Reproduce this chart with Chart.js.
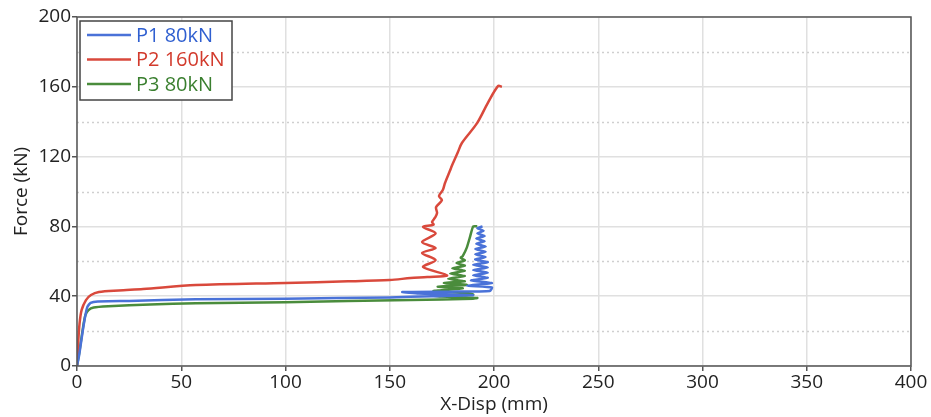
<!DOCTYPE html>
<html>
<head>
<meta charset="utf-8">
<script src="https://cdn.jsdelivr.net/npm/chart.js@4/dist/chart.umd.min.js"></script>
<style>
  html, body { margin: 0; padding: 0; background: #fff; }
  #wrap { width: 931px; height: 417px; }
</style>
</head>
<body>
<div id="wrap"><canvas id="chart"></canvas></div>
<script>
// P1 80kN
const p1Disp = [0, 1, 2, 3, 4, 5, 6.5, 10, 25, 57, 100, 150, 170, 190, 164, 156, 180, 198,
  199, 187, 199, 189, 197, 190, 197, 190, 197, 190, 197, 191, 196, 191, 196, 191, 196,
  191.5, 195.5, 191.5, 195.5, 192, 195, 192, 194.5];
const p1Force = [0, 6, 14, 22, 29, 34, 36.2, 37, 37.3, 38.2, 38.6, 39.3, 40, 40.6, 41.5, 42.4, 42.6, 43,
  45, 46, 47.5, 49, 50.5, 52, 53.5, 55, 56.5, 58, 59.5, 61, 62.5, 64, 65.5, 67, 68.5,
  70, 71.5, 73, 74.5, 76, 77.5, 79, 80];

// P2 160kN
const p2Disp = [0, 0.5, 1.2, 2.2, 4.3, 6.7, 10.5, 20, 31.7, 57, 100, 130, 150, 160, 168, 177.5,
  166, 172, 165.5, 172, 165.5, 172, 166, 171, 170.3, 171.7, 172.7, 172.2, 175, 173.6, 175.5,
  176.5, 178.9, 179.9, 182.7, 184.6, 191.8, 197, 202, 203.8];
const p2Force = [0, 12, 24, 32, 37.8, 40.7, 42.4, 43.3, 44.1, 46.4, 47.6, 48.5, 49.3, 50.4, 51, 52,
  56.7, 60.7, 64.8, 67.6, 71, 76, 79.7, 81, 82.5, 85, 87.7, 91, 95, 97.4, 101,
  104.9, 112, 115, 122.6, 127.8, 139, 150.7, 160.5, 160];

// P3 80kN
const p3Disp = [0, 1, 2, 3, 4, 5.5, 8, 15, 35, 57, 100, 160, 190, 192, 175, 170, 190, 186, 171, 185,
  173, 187, 176, 186, 178, 186, 179, 186, 180, 186, 182, 186, 184, 185, 187, 188.5, 190, 192];
const p3Force = [0, 7, 15, 23, 29, 32, 33.5, 34.2, 35.3, 35.9, 36.6, 37.8, 38.5, 39, 39.8, 40.5, 41, 42, 43, 44.5,
  45.5, 46.5, 47.5, 48.5, 50, 51.5, 53, 54.5, 56, 57.5, 59, 60.5, 62, 63, 68, 74, 80, 80];

const seriesLabels = ['P1 80kN', 'P2 160kN', 'P3 80kN'];
const lineColors = ['#4a72d8', '#d9493c', '#4a8c3c'];
const textColors = ['#2f5fd0', '#d23a2c', '#3a7f2f'];
const lineTension = [0.15, 0.3, 0.15];

const xTicks = [0, 50, 100, 150, 200, 250, 300, 350, 400];
const yTicks = [0, 40, 80, 120, 160, 200];
const yMinor = [20, 60, 100, 140, 180];

const FONT = '"Open Sans", "Noto Sans", sans-serif';

function pts(xs, ys) {
  return xs.map((x, i) => ({ x: x, y: ys[i] }));
}

const datasets = [
  [p1Disp, p1Force], [p2Disp, p2Force], [p3Disp, p3Force]
].map(([xs, ys], i) => ({
  label: seriesLabels[i],
  data: pts(xs, ys),
  showLine: true,
  borderColor: lineColors[i],
  backgroundColor: lineColors[i],
  borderWidth: 2.5,
  pointRadius: 0,
  tension: lineTension[i],
  fill: false,
}));

// dotted minor grid lines, frame round the plot, boxed legend
const framePlugin = {
  id: 'frame',
  beforeDatasetsDraw(chart) {
    const { ctx, chartArea, scales } = chart;
    ctx.save();
    ctx.strokeStyle = '#cfcfcf';
    ctx.lineWidth = 1.5;
    ctx.setLineDash([2, 3]);
    yMinor.forEach(v => {
      const py = Math.round(scales.y.getPixelForValue(v)) + 0.5;
      ctx.beginPath();
      ctx.moveTo(chartArea.left, py);
      ctx.lineTo(chartArea.right, py);
      ctx.stroke();
    });
    ctx.restore();
  },
  afterDraw(chart) {
    const { ctx, chartArea } = chart;
    ctx.save();
    ctx.strokeStyle = '#555';
    ctx.lineWidth = 1.5;
    ctx.strokeRect(chartArea.left, chartArea.top, chartArea.right - chartArea.left, chartArea.bottom - chartArea.top);

    const bx = chartArea.left + 3, by = chartArea.top + 4, bw = 152, bh = 79;
    ctx.fillStyle = '#fff';
    ctx.fillRect(bx, by, bw, bh);
    ctx.strokeStyle = '#444';
    ctx.lineWidth = 1.5;
    ctx.strokeRect(bx, by, bw, bh);
    ctx.font = '20px ' + FONT;
    ctx.textBaseline = 'middle';
    chart.data.datasets.forEach((ds, i) => {
      const rowY = by + 14 + i * 24.5;
      ctx.strokeStyle = ds.borderColor;
      ctx.lineWidth = 2.5;
      ctx.beginPath();
      ctx.moveTo(bx + 7, rowY);
      ctx.lineTo(bx + 51, rowY);
      ctx.stroke();
      ctx.fillStyle = textColors[i];
      ctx.fillText(ds.label, bx + 56, rowY + 1);
    });
    ctx.restore();
  }
};

new Chart(document.getElementById('chart'), {
  type: 'scatter',
  data: { datasets: datasets },
  options: {
    responsive: true,
    maintainAspectRatio: false,
    animation: false,
    layout: { padding: { left: 0, top: 17, right: 20, bottom: 0 } },
    plugins: {
      legend: { display: false },
      tooltip: { enabled: false },
    },
    scales: {
      x: {
        type: 'linear',
        min: 0,
        max: 400,
        afterBuildTicks: s => { s.ticks = xTicks.map(v => ({ value: v })); },
        afterFit: s => { s.height = 51; },
        ticks: { color: '#222', font: { family: FONT, size: 19 }, padding: 0, maxRotation: 0 },
        grid: { color: '#e0e0e0', lineWidth: 1.5, tickColor: '#555', tickLength: 5 },
        border: { display: false },
        title: { display: true, text: 'X-Disp (mm)', color: '#222', font: { family: FONT, size: 19 }, padding: { top: 0, bottom: 1 } },
      },
      y: {
        type: 'linear',
        min: 0,
        max: 200,
        afterBuildTicks: s => { s.ticks = yTicks.map(v => ({ value: v })); },
        afterFit: s => { s.width = 77; },
        ticks: { color: '#222', font: { family: FONT, size: 19 }, padding: 1 },
        grid: { color: '#e0e0e0', lineWidth: 1.5, tickColor: '#555', tickLength: 5 },
        border: { display: false },
        title: { display: true, text: 'Force (kN)', color: '#222', font: { family: FONT, size: 19 }, padding: { top: 10, bottom: 0 } },
      },
    },
  },
  plugins: [framePlugin],
});
</script>
</body>
</html>
